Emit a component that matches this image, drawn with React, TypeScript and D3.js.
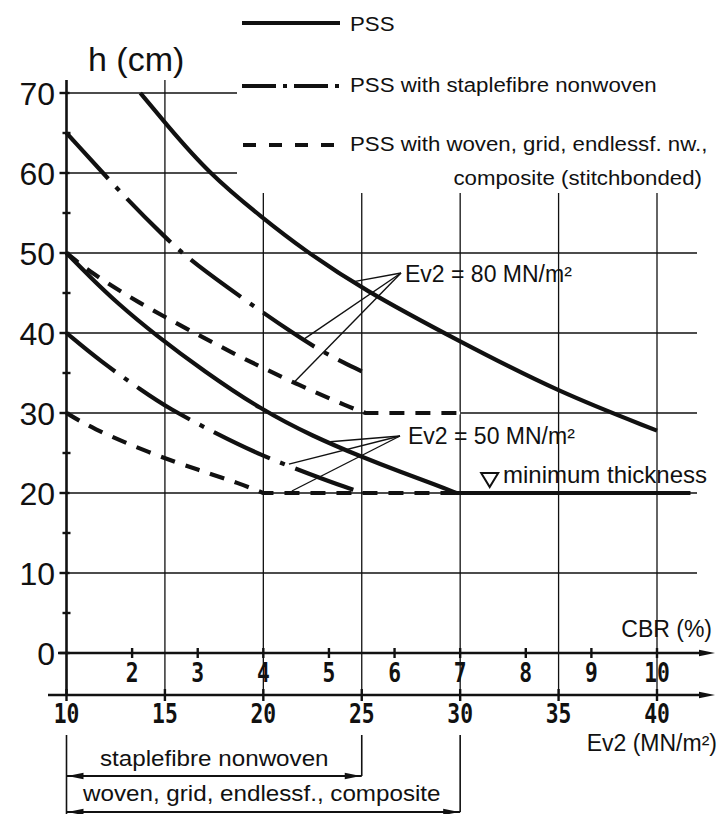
import React, { useEffect, useRef } from "react";
import * as d3 from "d3";

const W = 722;
const H = 814;

// curves: [Ev2 (MN/m²), h (cm)]
const pss80 = [[13.75, 70], [15, 66.3], [17.2, 60], [20, 54.3], [22, 50.5], [25, 45.5], [30, 38.9], [35, 32.6], [40, 27.8]];
const staple80 = [[10, 65], [13.1, 56.6], [15, 52], [16.3, 49], [20, 42.5], [21.5, 40], [23, 37.6], [25, 35.2]];
const woven80 = [[10, 50], [11.2, 47.6], [13.5, 44], [16.8, 39.6], [19, 36.8], [21.6, 33.7], [24.4, 30.7], [25.2, 30], [30, 30]];
const pss50 = [[10, 50], [11.2, 47], [12.6, 43.7], [14.5, 39.8], [17, 35.2], [19.9, 30.4], [22.5, 27.1], [25, 24.5], [27, 22.6], [28.8, 21], [29.8, 20], [41.7, 20]];
const staple50 = [[10, 40], [11.7, 36.5], [13.9, 32.7], [15.1, 30.7], [17.7, 27.3], [19.8, 24.8], [22.4, 22.3], [24.3, 20.6], [25, 20.1]];
const woven50 = [[10, 30], [11.2, 28.2], [14.2, 25], [16.8, 22.8], [18.8, 21.2], [20, 20], [29.8, 20]];

const hTicks = [0, 10, 20, 30, 40, 50, 60, 70];
const hMinor = [5, 15, 25, 35, 45, 55, 65];
const cbrTicks = [2, 3, 4, 5, 6, 7, 8, 9, 10];
const ev2Ticks = [10, 15, 20, 25, 30, 35, 40];
const ev2Grid = [15, 20, 25, 30, 35, 40];

// leader targets (Ev2 value on each curve)
const lead80 = [24.6, 22.1, 21.6];
const lead50 = [23.4, 21.3, 21.45];

const SANS = "'Liberation Sans', Arial, Helvetica, sans-serif";
const MONO = "'DejaVu Sans Mono', monospace";
const INK = "#111";

export default function App() {
  const svgRef = useRef<SVGSVGElement>(null);

  useEffect(() => {
    const svg = d3.select(svgRef.current);
    svg.selectAll("*").remove();

    const x = d3.scaleLinear().domain([10, 40]).range([66.5, 657]);
    const xc = d3.scaleLinear().domain([1, 10]).range([66.5, 657]);
    const y = d3.scaleLinear().domain([0, 70]).range([653, 93]);
    const yEv2 = 695;

    const g = svg.append("g");

    const txt = (tx, ty, s, size, opts: any = {}) =>
      g.append("text")
        .attr("transform", `translate(${tx},${ty}) scale(${opts.sx || 1},${opts.sy || 1})`)
        .attr("font-family", opts.family || SANS)
        .attr("font-size", size)
        .attr("font-weight", opts.weight || "normal")
        .attr("text-anchor", opts.anchor || "start")
        .attr("fill", INK)
        .text(s);

    const seg = (x1, y1, x2, y2, w = 1.3, dash = null) => {
      const l = g.append("line")
        .attr("x1", x1).attr("y1", y1).attr("x2", x2).attr("y2", y2)
        .attr("stroke", INK).attr("stroke-width", w);
      if (dash) l.attr("stroke-dasharray", dash);
      return l;
    };

    const arrow = (tx, ty, dir, len = 16, hw = 3.2) => {
      // dir: 1 pointing right, -1 pointing left
      const p = d3.path();
      p.moveTo(tx, ty);
      p.lineTo(tx - dir * len, ty - hw);
      p.lineTo(tx - dir * len, ty + hw);
      p.closePath();
      g.append("path").attr("d", p.toString()).attr("fill", INK);
    };

    // grid: horizontal
    hTicks.filter(v => v > 0).forEach(v => {
      seg(x(10), y(v), v >= 60 ? 237 : 697, y(v), 1.3);
    });
    // grid: vertical
    ev2Grid.forEach(v => {
      seg(x(v), v === 15 ? 80 : 193, x(v), yEv2, 1.3);
    });

    // axes
    seg(x(10), 80, x(10), yEv2, 2.6);
    seg(58, y(0), 700, y(0), 2.6);
    arrow(715, y(0), 1);
    seg(48, yEv2, 700, yEv2, 2.6);
    arrow(715, yEv2, 1);

    hTicks.forEach(v => seg(x(10) - 7, y(v), x(10) + 3, y(v), 2.4));
    hMinor.forEach(v => seg(x(10) - 4, y(v), x(10) + 4, y(v), 2.4));
    cbrTicks.forEach(v => seg(xc(v), y(0) - 5, xc(v), y(0) + 5, 2.4));
    ev2Ticks.forEach(v => seg(x(v), yEv2 - 6, x(v), yEv2 + 6, 2.4));

    // tick labels
    hTicks.forEach(v => txt(55, y(v) + 11.5, String(v), 32, { anchor: "end" }));
    cbrTicks.forEach(v => txt(xc(v), 682, String(v), 26, { anchor: "middle", family: MONO, weight: "bold", sx: 0.82 }));
    ev2Ticks.forEach(v => txt(x(v), 723, String(v), 26, { anchor: "middle", family: MONO, weight: "bold", sx: 0.82 }));

    txt(88, 71, "h (cm)", 34);
    txt(712, 637, "CBR (%)", 23, { anchor: "end" });
    txt(717, 751, "Ev2 (MN/m²)", 23, { anchor: "end" });

    // curves: smooth falling part, straight flat tail (minimum thickness)
    const line = d3.line<number[]>()
      .x(d => x(d[0]))
      .y(d => y(d[1]))
      .curve(d3.curveBasis);
    const pathFor = (data: number[][]) => {
      const last = data[data.length - 1];
      let k = data.length - 1;
      while (k > 0 && data[k - 1][1] === last[1]) k--;
      const fall = data.slice(0, k + 1);
      let d = line(fall as any) || "";
      if (k < data.length - 1) d += `L${x(last[0])},${y(last[1])}`;
      return d;
    };

    // hide grid under the flat dashed part at h = 30
    seg(x(25.2), y(30), x(30), y(30), 3, null).attr("stroke", "#fff");

    const curves = [
      { data: pss80, dash: null },
      { data: staple80, dash: "62,11,5,11" },
      { data: woven80, dash: "15,11" },
      { data: pss50, dash: null },
      { data: staple50, dash: "62,11,5,11" },
      { data: woven50, dash: "15,11" },
    ];
    curves.forEach(c => {
      const p = g.append("path")
        .attr("d", pathFor(c.data))
        .attr("fill", "none")
        .attr("stroke", INK)
        .attr("stroke-width", 4.2)
        .attr("stroke-linejoin", "round");
      if (c.dash) p.attr("stroke-dasharray", c.dash);
    });

    // leader lines
    const at = (data) => d3.scaleLinear().domain(data.map(d => d[0])).range(data.map(d => d[1]));
    const sets80 = [pss80, staple80, woven80];
    const sets50 = [pss50, staple50, woven50];
    lead80.forEach((v, i) => seg(401, 273, x(v), y(at(sets80[i])(v)) - 2, 1.4));
    lead50.forEach((v, i) => seg(400, 436, x(v), y(at(sets50[i])(v)) - 2, 1.4));
    txt(405, 282, "Ev2 = 80 MN/m²", 23);
    txt(408, 444, "Ev2 = 50 MN/m²", 23);

    // minimum thickness marker
    const tx = x(31.5);
    const ty = y(20) - 6;
    const tri = d3.path();
    tri.moveTo(tx - 8.5, ty - 14);
    tri.lineTo(tx + 8.5, ty - 14);
    tri.lineTo(tx, ty);
    tri.closePath();
    g.append("path").attr("d", tri.toString()).attr("fill", "#fff").attr("stroke", INK).attr("stroke-width", 2);
    txt(503, 483, "minimum thickness", 24);

    // legend
    seg(242, 23, 340, 23, 3.8);
    seg(242, 86, 340, 86, 3.8, "34,7,4,7");
    seg(243, 145, 335, 145, 3.8, "13,13");
    txt(350, 31, "PSS", 21, { sx: 1.06 });
    txt(350, 92, "PSS with staplefibre nonwoven", 21, { sx: 1.06 });
    txt(350, 151, "PSS with woven, grid, endlessf. nw.,", 21, { sx: 1.06 });
    txt(702, 185, "composite (stitchbonded)", 21, { sx: 1.06, anchor: "end" });

    // application ranges under the axis
    seg(x(10), 735, x(10), H, 1.6);
    seg(x(25), 735, x(25), 776, 1.6);
    seg(x(30), 735, x(30), 812, 1.6);
    seg(x(10), 776, x(25), 776, 1.8);
    arrow(x(10) + 1, 776, -1);
    arrow(x(25) - 1, 776, 1);
    seg(x(10), 812, x(30), 812, 1.8);
    arrow(x(10) + 1, 812, -1);
    arrow(x(30) - 1, 812, 1);
    txt(100, 766, "staplefibre nonwoven", 22, { sx: 1.1 });
    txt(83, 801, "woven, grid, endlessf., composite", 22, { sx: 1.1 });
  }, []);

  return (
    <svg
      ref={svgRef}
      width={W}
      height={H}
      style={{ position: "absolute", left: 0, top: 0, background: "#fff" }}
    />
  );
}
